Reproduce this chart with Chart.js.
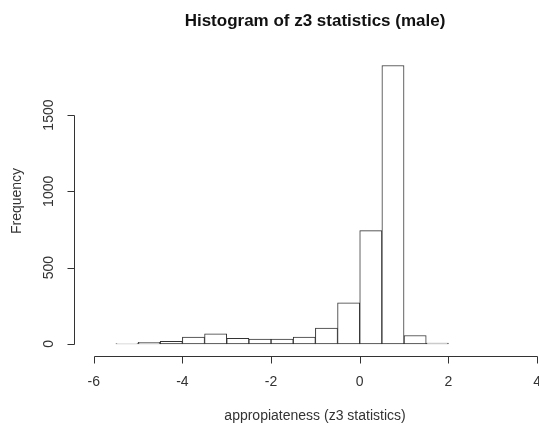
<!DOCTYPE html>
<html>
<head>
<meta charset="utf-8">
<title>Histogram of z3 statistics (male)</title>
<script src="https://cdn.jsdelivr.net/npm/chart.js@4/dist/chart.umd.min.js"></script>
<style>
  html, body { margin: 0; padding: 0; background: #fff; }
  #wrap { width: 539px; height: 426px; position: relative; }
</style>
</head>
<body>
<div id="wrap"><canvas id="histChart" width="539" height="426"></canvas></div>
<script>
'use strict';

// Histogram data: bin edges are breaks[i]..breaks[i+1]
var breaks = [-5.5, -5, -4.5, -4, -3.5, -3, -2.5, -2, -1.5, -1, -0.5, 0, 0.5, 1, 1.5, 2];
var counts = [2, 10, 17, 44, 66, 37, 31, 31, 44, 103, 269, 742, 1825, 55, 5];

// Axis ticks
var xTicks = [-6, -4, -2, 0, 2, 4];
var yTicks = [0, 500, 1000, 1500];

var titleText = 'Histogram of z3 statistics (male)';
var xLabel = 'appropiateness (z3 statistics)';
var yLabel = 'Frequency';

var inkColor = '#333';
var fontFamily = '"Liberation Sans", Arial, Helvetica, sans-serif';

// bar centres built from the breaks
var barPoints = [];
for (var i = 0; i < counts.length; i++) {
  barPoints.push({ x: (breaks[i] + breaks[i + 1]) / 2, y: counts[i] });
}

// R-style axes, title and labels drawn from the chart scales
var baseAxes = {
  id: 'baseAxes',
  afterDraw: function(chart) {
    var ctx = chart.ctx;
    var xs = chart.scales.x;
    var ys = chart.scales.y;
    var area = chart.chartArea;
    var axisY = area.bottom + 1.5;
    var axisX = area.left - 1.5;
    var tickLen = 7;

    ctx.save();
    ctx.strokeStyle = inkColor;
    ctx.fillStyle = inkColor;
    ctx.lineWidth = 1;

    // x axis
    var x0 = Math.round(xs.getPixelForValue(xTicks[0])) + 0.5;
    var x1 = Math.round(xs.getPixelForValue(xTicks[xTicks.length - 1])) + 0.5;
    ctx.beginPath();
    ctx.moveTo(x0, axisY);
    ctx.lineTo(x1, axisY);
    xTicks.forEach(function(t) {
      var px = Math.round(xs.getPixelForValue(t)) + 0.5;
      ctx.moveTo(px, axisY);
      ctx.lineTo(px, axisY + tickLen);
    });
    ctx.stroke();

    ctx.font = '14px ' + fontFamily;
    ctx.textAlign = 'center';
    ctx.textBaseline = 'middle';
    xTicks.forEach(function(t) {
      ctx.fillText(String(t), xs.getPixelForValue(t), axisY + 26);
    });

    // y axis
    var y0 = Math.round(ys.getPixelForValue(yTicks[0])) + 0.5;
    var y1 = Math.round(ys.getPixelForValue(yTicks[yTicks.length - 1])) + 0.5;
    ctx.beginPath();
    ctx.moveTo(axisX, y0);
    ctx.lineTo(axisX, y1);
    yTicks.forEach(function(t) {
      var py = Math.round(ys.getPixelForValue(t)) + 0.5;
      ctx.moveTo(axisX, py);
      ctx.lineTo(axisX - tickLen, py);
    });
    ctx.stroke();

    yTicks.forEach(function(t) {
      ctx.save();
      ctx.translate(axisX - 25, ys.getPixelForValue(t));
      ctx.rotate(-Math.PI / 2);
      ctx.fillText(String(t), 0, 0);
      ctx.restore();
    });

    // axis titles
    ctx.fillText(xLabel, 315, 416.5);
    ctx.save();
    ctx.translate(17, 201);
    ctx.rotate(-Math.PI / 2);
    ctx.fillText(yLabel, 0, 0);
    ctx.restore();

    // main title
    ctx.fillStyle = '#111';
    ctx.font = 'bold 17px ' + fontFamily;
    ctx.fillText(titleText, 315, 21);

    ctx.restore();
  }
};

var canvas = document.getElementById('histChart');
var ctx = canvas.getContext('2d');

var histChart = new Chart(ctx, {
  type: 'bar',
  data: {
    datasets: [{
      data: barPoints,
      backgroundColor: '#ffffff',
      borderColor: inkColor,
      borderWidth: 1,
      borderSkipped: false,
      barPercentage: 1,
      categoryPercentage: 1
    }]
  },
  options: {
    responsive: false,
    animation: false,
    layout: {
      padding: { left: 76, right: 0, top: 54.5, bottom: 71 }
    },
    plugins: {
      legend: { display: false },
      tooltip: { enabled: false },
      title: { display: false }
    },
    scales: {
      x: {
        type: 'linear',
        min: -6.4,
        max: 4.044,
        offset: false,
        display: false
      },
      y: {
        min: -73,
        max: 1897,
        display: false
      }
    }
  },
  plugins: [baseAxes]
});
</script>
</body>
</html>
